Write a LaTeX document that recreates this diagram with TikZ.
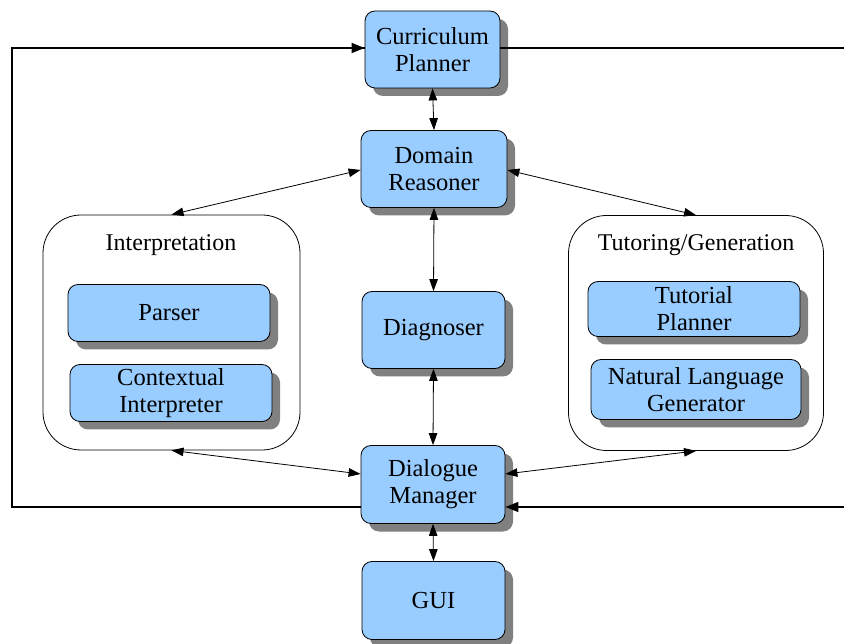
\documentclass[tikz,border=0pt]{standalone}
\usepackage{fontspec}
\setmainfont{Liberation Serif}
\usetikzlibrary{shadows,arrows.meta}
\definecolor{boxblue}{HTML}{99CCFF}
\definecolor{shadowgray}{HTML}{808080}
\tikzset{
  comp/.style={draw=black, line width=0.8pt, fill=boxblue, rounded corners=10pt,
    align=center, inner sep=0pt, font=\fontsize{24.5}{27}\selectfont,
    drop shadow={shadow xshift=8pt, shadow yshift=-8pt, fill=shadowgray, opacity=1}},
  group/.style={draw=black, line width=0.8pt, fill=white, rounded corners=38pt, inner sep=0pt},
  grouplabel/.style={font=\fontsize{24}{27}\selectfont, inner sep=0pt},
  link/.style={line width=0.8pt, {Triangle[length=12pt,width=8.5pt]}-{Triangle[length=12pt,width=8.5pt]}},
  loopline/.style={line width=1.5pt},
  looparrow/.style={line width=1.5pt, -{Triangle[length=13pt,width=10pt]}}
}
\begin{document}
\begin{tikzpicture}[x=1pt,y=-1pt]
\useasboundingbox (0,0) rectangle (844,644);
% groups
\node[group, minimum width=257pt, minimum height=235pt] (interp) at (171.5,332.5) {};
\node[grouplabel] (interplabel) at (171,245) {Interpretation};
\node[group, minimum width=255pt, minimum height=235pt] (tutor) at (696,333) {};
\node[grouplabel] (tutorlabel) at (696,245) {Tutoring/Generation};
% components
\node[comp, minimum width=135pt, minimum height=77pt] (cp) at (432.5,49.5) {Curriculum\\Planner};
\node[comp, minimum width=146pt, minimum height=77pt] (dr) at (434,169) {Domain\\Reasoner};
\node[comp, minimum width=143pt, minimum height=77pt] (diag) at (433.5,330) {Diagnoser};
\node[comp, minimum width=144pt, minimum height=78pt] (dm) at (433,484.5) {Dialogue\\Manager};
\node[comp, minimum width=143pt, minimum height=78pt] (gui) at (433.5,600.5) {GUI};
\node[comp, minimum width=202pt, minimum height=57pt] (parser) at (169,313) {Parser};
\node[comp, minimum width=202pt, minimum height=57pt] (ci) at (171,393) {Contextual\\Interpreter};
\node[comp, minimum width=212pt, minimum height=55pt] (tp) at (694,309) {Tutorial\\Planner};
\node[comp, minimum width=210pt, minimum height=60pt] (nlg) at (696,389.5) {Natural Language\\Generator};
% links
\draw[link] (cp.south) -- (dr.north);
\draw[link] (dr.south) -- (diag.north);
\draw[link] (diag.south) -- (dm.north);
\draw[link] (dm.south) -- (gui.north);
\draw[link] (dr.west |- 0,170) -- (interp.north);
\draw[link] (dr.east |- 0,170) -- (tutor.north);
\draw[link] (dm.west |- 0,474) -- (interp.south);
\draw[link] (dm.east |- 0,474) -- (tutor.south);
% outer loop
\coordinate (lb) at (12,507);
\coordinate (lt) at (12,48);
\coordinate (rt) at (846,48);
\coordinate (rb) at (846,507);
\draw[loopline] (dm.west |- lb) -- (lb) -- (lt) -- (lt -| cp.west);
\draw[looparrow] (lt) -- (cp.west |- lt);
\draw[loopline] (cp.east |- rt) -- (rt);
\draw[looparrow] (rb) -- (dm.east |- rb);
\end{tikzpicture}
\end{document}
